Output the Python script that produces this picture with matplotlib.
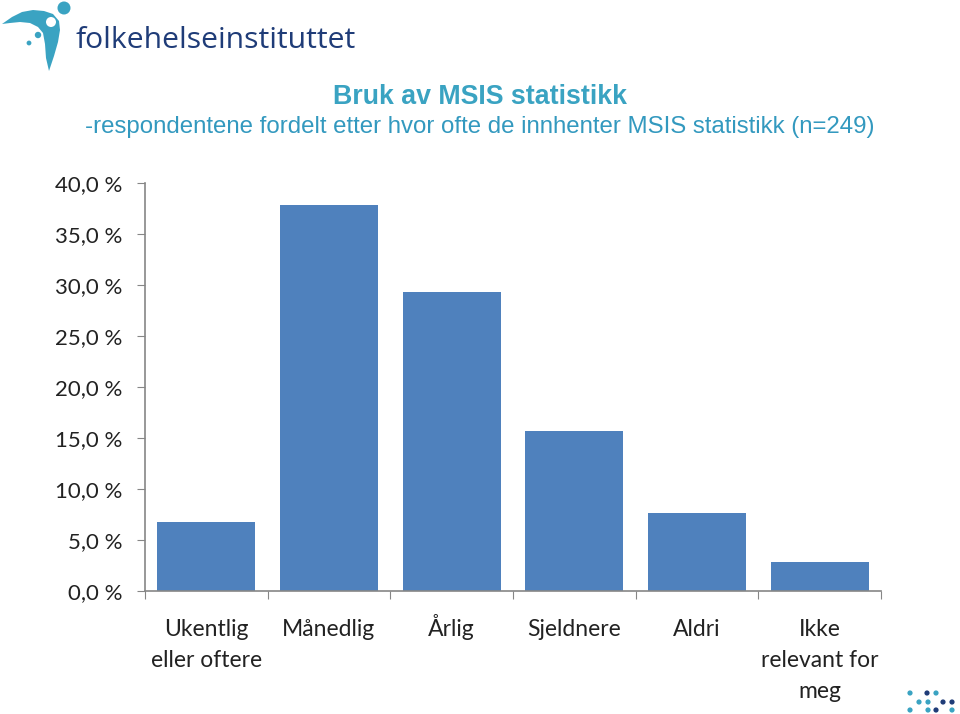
import matplotlib
matplotlib.use("Agg")
import matplotlib.pyplot as plt
from matplotlib.patches import Polygon, Circle

# Data: share of respondents (n=249)
categories = ["Ukentlig\neller oftere", "Månedlig", "Årlig", "Sjeldnere", "Aldri", "Ikke\nrelevant for\nmeg"]
values = [6.8, 37.8, 29.3, 15.7, 7.6, 2.8]
yticks = [0, 5, 10, 15, 20, 25, 30, 35, 40]

bar_color = "#4f81bd"
teal = "#3aa3c2"
navy = "#1f3c78"
grey = "#868686"

fig = plt.figure(figsize=(9.6, 7.14), dpi=100)

# Titles
fig.text(0.5, 1 - 97 / 714, "Bruk av MSIS statistikk", ha="center", va="center",
         fontsize=19.3, fontweight="bold", color=teal, family="Liberation Sans")
fig.text(0.5, 1 - 127 / 714, "-respondentene fordelt etter hvor ofte de innhenter MSIS statistikk (n=249)",
         ha="center", va="center", fontsize=17.3, color="#3399bf", family="Liberation Sans")

# Bar chart
ax = fig.add_axes([145 / 960, 1 - 591 / 714, (881 - 145) / 960, (591 - 183) / 714])
x = range(len(categories))
ax.bar(x, values, width=0.8, color=bar_color)
ax.set_xlim(-0.5, len(categories) - 0.5)
ax.set_ylim(0, 40)
ax.set_yticks(yticks)
ax.set_yticklabels([f"{v:.1f} %".replace(".", ",") for v in yticks],
                   fontsize=16, family="Lato", color="#222222")
ax.set_xticks([i - 0.5 for i in range(len(categories) + 1)])
ax.set_xticklabels([])
ax.tick_params(axis="x", which="major", length=6, color=grey, direction="out")
ax.tick_params(axis="y", length=6, color=grey, direction="out", pad=10)
for s in ["top", "right"]:
    ax.spines[s].set_visible(False)
for s in ["left", "bottom"]:
    ax.spines[s].set_color(grey)
    ax.spines[s].set_linewidth(1.2)

# Category labels, one line at a time so baselines line up
for i, label in enumerate(categories):
    for j, line in enumerate(label.split("\n")):
        y_px = 636 + 31 * j
        ax.annotate(line, xy=(i, 0), xycoords=("data", "axes fraction"),
                    xytext=(0, -(y_px - 591) * 0.72), textcoords="offset points",
                    ha="center", va="baseline", fontsize=16.5, family="Lato",
                    color="#222222", annotation_clip=False)

# Logo and decoration in pixel coordinates
deco = fig.add_axes([0, 0, 1, 1], zorder=-1)
deco.set_xlim(0, 960)
deco.set_ylim(714, 0)
deco.axis("off")
boomerang = [(2, 24), (12, 17), (22, 12), (33, 10), (44, 11), (53, 14), (59, 21),
             (60, 30), (58, 42), (54, 56), (49, 71), (46, 58), (45, 44), (43, 33),
             (38, 27), (30, 23), (20, 22), (10, 23)]
deco.add_patch(Polygon(boomerang, closed=True, color=teal, lw=0))
deco.add_patch(Circle((51, 22), 5, color="white", lw=0))
deco.add_patch(Circle((64, 8), 6.5, color=teal, lw=0))
deco.add_patch(Circle((38, 35), 3.2, color=teal, lw=0))
deco.add_patch(Circle((29, 43), 2.4, color=teal, lw=0))
deco.text(76, 48, "folkehelseinstituttet", fontsize=21.7, color=navy,
          family="Open Sans", va="baseline", ha="left")

dots = [(910, 693, teal), (927, 693, navy), (936, 693, teal),
        (919, 702, teal), (928, 702, teal), (943, 702, navy), (952, 702, navy),
        (910, 710, teal), (928, 710, teal), (936, 710, navy), (952, 710, teal)]
for dx, dy, c in dots:
    deco.add_patch(Circle((dx, dy), 2.6, color=c, lw=0))

fig.savefig("out.png", dpi=100)
